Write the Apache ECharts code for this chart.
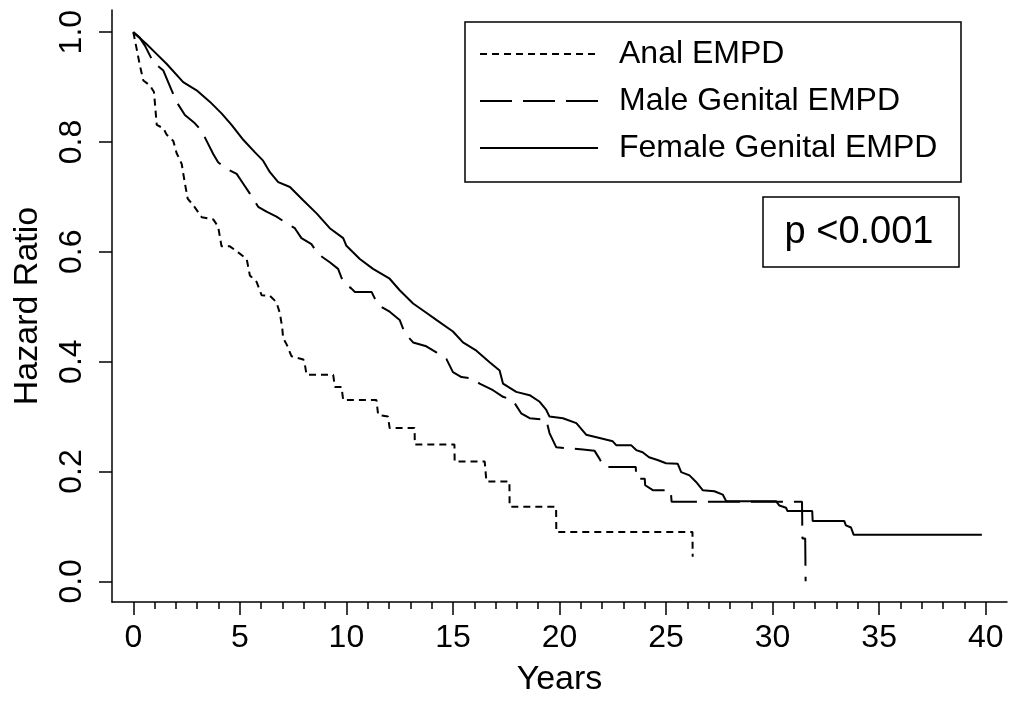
<!DOCTYPE html>
<html>
<head>
<meta charset="utf-8">
<script src="https://cdn.jsdelivr.net/npm/echarts@6/dist/echarts.min.js"></script>
<style>
html,body{margin:0;padding:0;background:#fff;}
#chart{width:1022px;height:702px;}
</style>
</head>
<body>
<div id="chart"></div>
<script>
// ---- data ----
var seriesNames = ['Anal EMPD', 'Male Genital EMPD', 'Female Genital EMPD'];

var analTimes = [0,0.16,0.31,0.47,0.78,0.97,1.10,1.41,1.57,1.875,2.03,2.27,2.42,2.55,2.85,3.21,3.75,3.98,4.14,4.53,4.92,5.32,5.47,5.79,6.02,6.41,6.72,6.88,6.99,7.03,7.2,7.42,7.98,8.05,8.13,9.38,9.46,9.77,9.85,11.41,11.49,11.95,12.03,13.2,13.21,15.07,15.08,16.49,16.57,17.65,17.66,19.84,19.85,26.24,26.25];
var analSurv  = [1,0.969,0.939,0.912,0.903,0.891,0.831,0.825,0.813,0.802,0.780,0.760,0.725,0.697,0.683,0.663,0.659,0.646,0.610,0.610,0.599,0.587,0.557,0.545,0.521,0.520,0.508,0.488,0.461,0.443,0.431,0.410,0.404,0.395,0.376,0.376,0.354,0.354,0.330,0.330,0.303,0.300,0.279,0.279,0.249,0.249,0.218,0.218,0.182,0.182,0.136,0.136,0.090,0.090,0.045];

var maleTimes = [0,0.3,0.55,0.94,1.41,1.80,2.03,2.42,2.89,3.21,3.44,3.75,3.98,4.38,4.85,5.16,5.47,5.86,6.25,6.72,7.19,7.58,7.89,8.36,8.67,9.22,9.61,9.85,10.24,10.4,11.18,11.49,12.03,12.5,12.74,13.13,13.75,14.22,14.69,15.0,15.4,15.94,16.25,16.88,17.35,17.8,18.2,18.6,19.38,19.53,19.85,21.1,21.64,21.88,22.1,23.58,23.6,24.0,24.02,24.38,25.22,25.26,31.38,31.4,31.53,31.55];
var maleSurv  = [1,0.99,0.975,0.945,0.930,0.894,0.873,0.849,0.834,0.820,0.802,0.778,0.763,0.751,0.742,0.724,0.706,0.682,0.673,0.664,0.652,0.643,0.625,0.614,0.596,0.581,0.569,0.545,0.533,0.527,0.527,0.503,0.491,0.476,0.452,0.435,0.428,0.417,0.405,0.381,0.372,0.369,0.360,0.348,0.336,0.330,0.306,0.297,0.294,0.270,0.244,0.240,0.238,0.223,0.208,0.208,0.187,0.187,0.175,0.166,0.166,0.145,0.145,0.078,0.078,0.0];

var femaleTimes = [0,0.63,1.1,1.57,2.34,2.97,3.6,4.14,4.61,5.16,5.71,6.09,6.41,6.8,7.35,7.97,8.6,9.22,9.85,10.0,10.63,11.25,12.03,12.5,13.13,13.75,14.22,15.0,15.47,16.1,16.72,17.19,17.35,17.97,18.6,19.07,19.38,19.53,20.16,20.79,21.25,21.88,22.5,22.66,23.36,23.6,23.9,24.2,24.6,25.0,25.55,25.71,26.1,26.41,26.72,27.27,27.66,27.82,30.16,30.32,30.63,30.7,31.86,31.88,32.0,33.36,33.44,33.68,33.8,39.82];
var femaleSurv  = [1,0.978,0.960,0.942,0.909,0.894,0.873,0.852,0.831,0.804,0.781,0.766,0.745,0.727,0.718,0.694,0.670,0.643,0.625,0.611,0.587,0.569,0.551,0.530,0.506,0.489,0.476,0.455,0.435,0.420,0.399,0.384,0.360,0.345,0.339,0.327,0.312,0.300,0.297,0.288,0.267,0.261,0.255,0.248,0.248,0.239,0.235,0.226,0.221,0.215,0.214,0.199,0.193,0.181,0.166,0.164,0.158,0.146,0.146,0.138,0.134,0.128,0.128,0.110,0.110,0.110,0.102,0.098,0.085,0.085];

var xMajorTicks = [0,5,10,15,20,25,30,35,40];
var xMinorTicks = [0,1,2,3,4,5,6,7,8,9,10,11,12,13,14,15,16,17,18,19,20,21,22,23,24,25,26,27,28,29,30,31,32,33,34,35,36,37,38,39,40];
var yTicks = [0,0.2,0.4,0.6,0.8,1.0];
var pText = 'p <0.001';

// ---- chart ----
function zip(a, b) { return a.map(function (t, i) { return [t, b[i]]; }); }
var FONT = '"Liberation Sans", Arial, Helvetica, sans-serif';
var chart = echarts.init(document.getElementById('chart'), null, {renderer: 'canvas'});

var option = {
  animation: false,
  backgroundColor: '#fff',
  textStyle: {fontFamily: FONT, color: '#000'},
  grid: {left: 112, right: 15, top: 10, bottom: 90, containLabel: false},
  xAxis: [{
    type: 'value', min: -1, max: 41, position: 'bottom',
    name: 'Years', nameLocation: 'middle', nameGap: 61,
    nameTextStyle: {fontSize: 34, color: '#000', fontFamily: FONT},
    axisLine: {show: true, onZero: false, lineStyle: {color: '#000', width: 1.5}},
    axisTick: {show: true, length: 13, lineStyle: {color: '#000', width: 1.5}, customValues: xMajorTicks},
    axisLabel: {show: true, fontSize: 32, color: '#000', margin: 20, fontFamily: FONT, customValues: xMajorTicks},
    splitLine: {show: false}
  }, {
    type: 'value', min: -1, max: 41, position: 'bottom', offset: 0,
    axisLine: {show: false, onZero: false},
    axisTick: {show: true, length: 7, lineStyle: {color: '#000', width: 1.5}, customValues: xMinorTicks},
    axisLabel: {show: false},
    splitLine: {show: false}
  }],
  yAxis: [{
    type: 'value', min: -0.0376, max: 1.0403, position: 'left',
    name: 'Hazard Ratio', nameLocation: 'middle', nameGap: 67, nameRotate: 90,
    nameTextStyle: {fontSize: 34, color: '#000', fontFamily: FONT},
    axisLine: {show: true, onZero: false, lineStyle: {color: '#000', width: 1.5}},
    axisTick: {show: true, length: 13, lineStyle: {color: '#000', width: 1.5}, customValues: yTicks},
    axisLabel: {show: true, fontSize: 32, color: '#000', margin: 24, rotate: 90, fontFamily: FONT,
      customValues: yTicks, formatter: function (v) { return (+v).toFixed(1); }},
    splitLine: {show: false}
  }],
  legend: {
    show: true, orient: 'vertical', left: 479, top: 38, padding: 0,
    itemWidth: 118, itemHeight: 30, itemGap: 15,
    itemStyle: {opacity: 0, borderWidth: 0},
    textStyle: {fontSize: 32, color: '#000', fontFamily: FONT, padding: [0, 0, 0, 16]},
    data: seriesNames
  },
  graphic: [
    {type: 'rect', shape: {x: 465, y: 22, width: 496, height: 160}, style: {fill: 'none', stroke: '#000', lineWidth: 1.5}, silent: true},
    {type: 'rect', shape: {x: 763, y: 197, width: 196, height: 70}, style: {fill: 'none', stroke: '#000', lineWidth: 1.5}, silent: true},
    {type: 'text', x: 859, y: 233, style: {text: pText, font: '38px ' + FONT, fill: '#000', align: 'center', verticalAlign: 'middle'}, silent: true}
  ],
  series: [
    {name: seriesNames[0], type: 'line', data: zip(analTimes, analSurv), symbol: 'none', showSymbol: false,
     lineStyle: {color: '#000', width: 2, type: [7, 5]}, itemStyle: {color: '#000'}},
    {name: seriesNames[1], type: 'line', data: zip(maleTimes, maleSurv), symbol: 'none', showSymbol: false,
     lineStyle: {color: '#000', width: 2, type: [32, 11]}, itemStyle: {color: '#000'}},
    {name: seriesNames[2], type: 'line', data: zip(femaleTimes, femaleSurv), symbol: 'none', showSymbol: false,
     lineStyle: {color: '#000', width: 2, type: 'solid'}, itemStyle: {color: '#000'}}
  ]
};
chart.setOption(option);
</script>
</body>
</html>
